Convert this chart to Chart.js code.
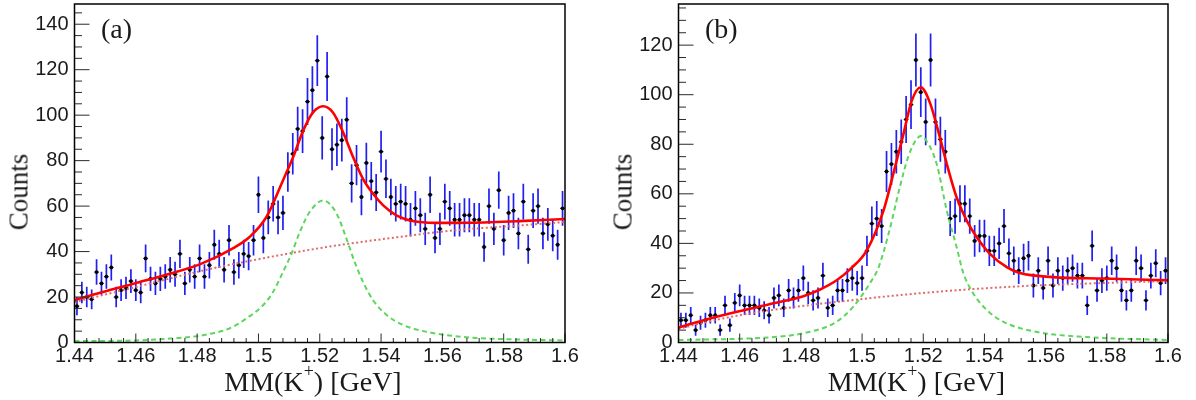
<!DOCTYPE html>
<html><head><meta charset="utf-8">
<script src="https://cdn.jsdelivr.net/npm/chart.js@4.4.0/dist/chart.umd.min.js"></script>
<style>
html,body{margin:0;padding:0;background:#fff;}
#wrap{position:relative;width:1196px;height:400px;overflow:hidden;background:#fff;}
canvas{position:absolute;top:0;}
.t{position:absolute;font-family:'Liberation Serif','Times New Roman',serif;color:#1a1a1a;white-space:nowrap;line-height:1;z-index:2;}
.ax{font-size:28px;transform:translateX(-50%);}
.yl{font-size:27px;transform:translate(-50%,-50%) rotate(-90deg);}
.pl{font-size:28px;}
.sup{display:inline-block;font-size:18px;color:#1a1a1a;transform:translateY(-14px);}
</style></head><body>
<div id="wrap">
<canvas id="ca" width="598" height="400" style="left:0;width:598px;height:400px"></canvas>
<canvas id="cb" width="598" height="400" style="left:598px;width:598px;height:400px"></canvas>
<div class="t yl" style="left:19px;top:192px">Counts</div>
<div class="t yl" style="left:623px;top:192px">Counts</div>
<div class="t ax" style="left:313px;top:367.5px">MM(K<span class="sup">+</span>) [GeV]</div>
<div class="t ax" style="left:916.5px;top:367.5px">MM(K<span class="sup">+</span>) [GeV]</div>
<div class="t pl" style="left:101px;top:14.5px">(a)</div>
<div class="t pl" style="left:705px;top:14.5px">(b)</div>
</div>
<script>
// ---------- data ----------
const binStart = 1.44, binWidth = 0.0016;
const xTickVals = [1.44, 1.46, 1.48, 1.5, 1.52, 1.54, 1.56, 1.58, 1.6];
const xTickLabels = ['1.44', '1.46', '1.48', '1.5', '1.52', '1.54', '1.56', '1.58', '1.6'];
const yTickValsA = [0, 20, 40, 60, 80, 100, 120, 140];
const yTickValsB = [0, 20, 40, 60, 80, 100, 120];

const countsA = [16,22,20,19,31,26,29,33,20,23,
 24,27,23,22,37,28,26,28,29,32,
 30,39,26,32,29,37,29,34,43,39,
 32,45,31,34,39,38,45,65,46,55,
 61,55,57,75,83,94,93,106,111,124,
 90,117,85,87,89,98,70,78,64,79,
 71,66,84,72,64,61,62,61,54,59,
 56,50,65,46,50,62,59,54,54,56,
 56,54,54,42,60,50,67,45,57,58,
 48,62,41,58,60,48,52,47,43,59];

const countsB = [9,9,11,5,8,9,11,11,5,15,
 7,16,19,15,15,15,14,13,11,18,
 19,14,21,18,21,26,20,17,18,27,
 14,15,21,21,25,26,24,26,37,48,
 50,47,69,72,77,81,90,96,114,101,
 89,114,89,82,77,50,51,56,56,51,
 41,43,43,37,37,40,47,36,33,29,
 34,35,23,29,22,33,23,29,26,29,
 30,27,27,15,39,21,25,26,33,30,
 21,17,21,33,30,17,27,32,24,29];

const totalFitA = [[1.44,18.6],[1.4486,22],[1.4596,26],[1.4705,30],[1.4814,34.7],[1.4924,42],[1.4971,46.4],[1.5026,55.2],[1.508,71.3],[1.5113,81.5],[1.5146,93.2],[1.5178,101.2],[1.5211,103.9],[1.5243,101.2],[1.5276,92.5],[1.5309,81.5],[1.5341,72],[1.5374,65.4],[1.5407,60.3],[1.545,55.9],[1.5494,53.7],[1.5527,53],[1.558,52.6],[1.569,52.7],[1.585,53.4],[1.6,54.3]];
const signalA = [[1.44,0.6],[1.46,0.9],[1.47,1.6],[1.48,2.8],[1.4855,4.2],[1.4906,6.2],[1.4961,10.6],[1.5015,16.4],[1.5048,22.3],[1.508,31],[1.5108,39.1],[1.5135,48.6],[1.5167,57.4],[1.5211,62.5],[1.5255,56.7],[1.5287,45.7],[1.5314,35.4],[1.5341,26.7],[1.5374,18.6],[1.5418,12.1],[1.5472,7.7],[1.5548,4.7],[1.569,2.2],[1.585,1.3],[1.6,0.9]];
const backgroundA = [[1.44,17.8],[1.46,24.4],[1.482,31.7],[1.5037,37.6],[1.5222,42],[1.5418,45.7],[1.5636,49.3],[1.5853,51.5],[1.6,53]];

const totalFitB = [[1.44,6.0],[1.4482,9],[1.4591,12.4],[1.47,15.5],[1.4808,18.7],[1.4863,21.4],[1.4917,25.1],[1.4965,30],[1.5015,37.1],[1.507,53.2],[1.5102,68],[1.5135,84],[1.5162,97.4],[1.5192,103],[1.5222,96.7],[1.5249,85.3],[1.5277,72],[1.5309,58.6],[1.5342,49.2],[1.5375,42.5],[1.5418,35.8],[1.5473,30.4],[1.5516,28],[1.5624,26.4],[1.5788,25.8],[1.6,25.1]];
const signalB = [[1.44,1.0],[1.47,2.1],[1.4808,3.7],[1.4917,8.4],[1.4971,14.4],[1.5026,24],[1.5053,30],[1.5089,45],[1.5122,62],[1.5151,75],[1.5175,81.5],[1.5192,83.3],[1.5215,80.5],[1.5244,72],[1.5277,53.2],[1.5309,38.5],[1.5331,28],[1.5363,19.9],[1.5407,13.2],[1.5461,8.4],[1.557,4.3],[1.5734,2.2],[1.6,1.0]];
const backgroundB = [[1.44,5.5],[1.4482,8.0],[1.4591,10.8],[1.47,13],[1.4917,16.4],[1.5228,20.3],[1.5516,22.7],[1.5788,24],[1.6,24.8]];

// ---------- plugins ----------
const errorBars = {
  id: 'errorBars',
  beforeDatasetsDraw(chart) {
    const ds = chart.data.datasets[3];
    const {ctx, scales: {x, y}} = chart;
    ctx.save();
    ctx.lineWidth = 1.7;
    ctx.strokeStyle = '#2020f0';
    ctx.beginPath();
    ds.data.forEach(p => {
      const e = Math.sqrt(p.y);
      const px = x.getPixelForValue(p.x);
      ctx.moveTo(px, y.getPixelForValue(p.y + e));
      ctx.lineTo(px, y.getPixelForValue(Math.max(p.y - e, 0)));
    });
    ctx.stroke();
    ctx.strokeStyle = 'rgba(40,40,40,0.8)';
    ctx.lineWidth = 1.2;
    ctx.beginPath();
    ds.data.forEach(p => {
      const py = y.getPixelForValue(p.y);
      ctx.moveTo(x.getPixelForValue(p.x - binWidth / 2), py);
      ctx.lineTo(x.getPixelForValue(p.x + binWidth / 2), py);
    });
    ctx.stroke();
    ctx.restore();
  }
};

const frameTicks = {
  id: 'frameTicks',
  afterDraw(chart) {
    const {ctx, chartArea: a, scales: {x, y}} = chart;
    ctx.save();
    ctx.strokeStyle = '#2a2a2a';
    ctx.lineWidth = 1;
    ctx.beginPath();
    for (let k = 0; k * 5 <= y.max + 1e-9; k++) {
      const py = y.getPixelForValue(k * 5);
      ctx.moveTo(a.left, py);
      ctx.lineTo(a.left + (k % 4 === 0 ? 15 : 7.5), py);
    }
    for (let k = 0; k <= 40; k++) {
      const px = x.getPixelForValue(1.44 + k * 0.004);
      ctx.moveTo(px, a.bottom);
      ctx.lineTo(px, a.bottom - (k % 5 === 0 ? 9 : 4.5));
    }
    ctx.stroke();
    ctx.strokeStyle = '#000';
    ctx.lineWidth = 1.5;
    ctx.strokeRect(a.left, a.top, a.right - a.left, a.bottom - a.top);
    ctx.restore();
  }
};

function pts(arr) { return arr.map(p => ({x: p[0], y: p[1]})); }

function makeChart(id, counts, total, sig, bkg, yMax, yTicks, leftW, rightPad) {
  const hist = counts.map((c, i) => ({x: binStart + binWidth * (i + 0.5), y: c}));
  return new Chart(document.getElementById(id), {
    type: 'scatter',
    data: {
      datasets: [
        {type: 'line', data: pts(total), borderColor: '#ff0000', borderWidth: 2.6, pointRadius: 0, cubicInterpolationMode: 'monotone', fill: false, order: 0},
        {type: 'line', data: pts(sig), borderColor: '#5cd65c', borderWidth: 2, borderDash: [5, 3.5], pointRadius: 0, cubicInterpolationMode: 'monotone', fill: false, order: 1},
        {type: 'line', data: pts(bkg), borderColor: '#e06a6a', borderWidth: 2, borderDash: [2, 2.5], pointRadius: 0, cubicInterpolationMode: 'monotone', fill: false, order: 2},
        {type: 'scatter', data: hist, pointRadius: 1.9, pointStyle: 'circle', pointBackgroundColor: '#000', pointBorderWidth: 0, borderWidth: 0, order: 3}
      ]
    },
    options: {
      responsive: false,
      animation: false,
      events: [],
      layout: {padding: {left: 0, right: rightPad, top: 3, bottom: 0}},
      plugins: {legend: {display: false}, tooltip: {enabled: false}},
      scales: {
        x: {
          type: 'linear', min: 1.44, max: 1.6,
          grid: {display: false, drawTicks: false}, border: {display: false},
          ticks: {font: {family: "'Liberation Sans', Arial, sans-serif", size: 20}, color: '#1a1a1a', padding: 2, maxRotation: 0, autoSkip: false,
            callback: (v, i) => xTickLabels[i]},
          afterBuildTicks: s => { s.ticks = xTickVals.map(v => ({value: v})); },
          afterFit: s => { s.height = 57.5; s.paddingLeft = 0; s.paddingRight = 0; }
        },
        y: {
          type: 'linear', min: 0, max: yMax,
          grid: {display: false, drawTicks: false}, border: {display: false},
          ticks: {font: {family: "'Liberation Sans', Arial, sans-serif", size: 20}, color: '#1a1a1a', padding: 6, autoSkip: false,
            callback: (v, i) => String(yTicks[i])},
          afterBuildTicks: s => { s.ticks = yTicks.map(v => ({value: v})); },
          afterFit: s => { s.width = leftW; s.paddingTop = 0; s.paddingBottom = 0; }
        }
      }
    },
    plugins: [errorBars, frameTicks]
  });
}

makeChart('ca', countsA, totalFitA, signalA, backgroundA, 148.9, yTickValsA, 74.5, 33);
makeChart('cb', countsB, totalFitB, signalB, backgroundB, 136.6, yTickValsB, 80.5, 28);
</script>
</body></html>
